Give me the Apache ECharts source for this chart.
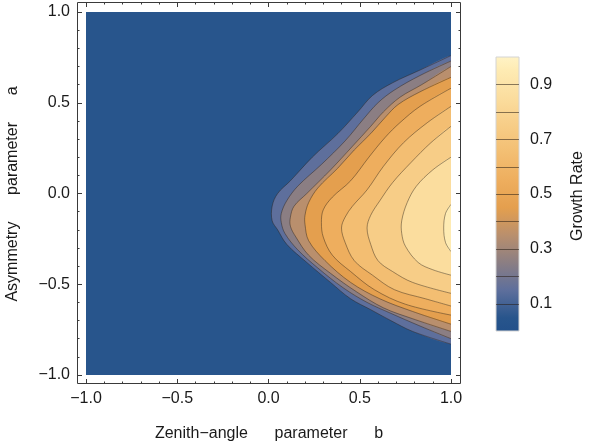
<!DOCTYPE html>
<html><head><meta charset="utf-8">
<script src="https://cdn.jsdelivr.net/npm/echarts@6/dist/echarts.min.js"></script>
<style>html,body{margin:0;padding:0;background:#fff}#c{width:590px;height:444px}</style>
</head><body><div id="c"></div>
<script>
// contour levels of the growth rate
const levels = [0.1, 0.2, 0.3, 0.4, 0.5, 0.6, 0.7, 0.8, 0.9];
// band colours: [0,0.1), [0.1,0.2) ... [0.9,1.0]
const bandColors = ['#28558C','#5E6F9C','#8B7E83','#B98F6D','#E49F4E','#EEAE5E','#F3BE72','#F7CD87','#FBDD9E','#FEEBB3'];
// contour lines, points [b, a]
const contour01 = [[1.0,0.76],[0.83,0.68],[0.68,0.61],[0.57,0.54],[0.49,0.45],[0.38,0.33],[0.24,0.20],[0.12,0.07],[0.05,0.00],[0.02,-0.07],[0.02,-0.15],[0.05,-0.20],[0.10,-0.28],[0.21,-0.38],[0.34,-0.49],[0.45,-0.58],[0.56,-0.64],[0.67,-0.70],[0.79,-0.76],[1.0,-0.83]];
const contour02 = [[1.0,0.73],[0.83,0.65],[0.69,0.57],[0.60,0.50],[0.52,0.41],[0.42,0.29],[0.29,0.16],[0.16,0.04],[0.10,-0.04],[0.07,-0.11],[0.07,-0.16],[0.09,-0.22],[0.16,-0.31],[0.27,-0.41],[0.41,-0.52],[0.54,-0.60],[0.67,-0.66],[0.83,-0.73],[1.0,-0.80]];
const contour03 = [[1.0,0.70],[0.84,0.60],[0.72,0.53],[0.63,0.45],[0.56,0.37],[0.46,0.26],[0.34,0.13],[0.21,0.00],[0.14,-0.07],[0.12,-0.13],[0.12,-0.18],[0.15,-0.24],[0.22,-0.34],[0.34,-0.44],[0.48,-0.54],[0.63,-0.63],[0.79,-0.69],[1.0,-0.76]];
const contour04 = [[1.0,0.64],[0.83,0.56],[0.71,0.49],[0.64,0.42],[0.56,0.33],[0.47,0.24],[0.38,0.14],[0.27,0.03],[0.22,-0.05],[0.20,-0.12],[0.20,-0.17],[0.22,-0.26],[0.31,-0.37],[0.45,-0.49],[0.61,-0.58],[0.79,-0.65],[1.0,-0.72]];
const contour05 = [[1.0,0.58],[0.83,0.48],[0.72,0.39],[0.64,0.31],[0.55,0.20],[0.45,0.07],[0.35,-0.02],[0.30,-0.09],[0.29,-0.16],[0.30,-0.24],[0.35,-0.34],[0.45,-0.43],[0.58,-0.53],[0.75,-0.61],[1.0,-0.67]];
const contour06 = [[1.0,0.48],[0.87,0.39],[0.74,0.28],[0.63,0.15],[0.54,0.02],[0.46,-0.07],[0.42,-0.13],[0.40,-0.19],[0.42,-0.27],[0.47,-0.37],[0.57,-0.45],[0.69,-0.53],[0.86,-0.58],[1.0,-0.62]];
const contour07 = [[1.0,0.37],[0.89,0.28],[0.78,0.17],[0.68,0.06],[0.61,-0.04],[0.56,-0.12],[0.54,-0.19],[0.56,-0.28],[0.60,-0.37],[0.68,-0.43],[0.79,-0.49],[1.0,-0.55]];
const contour08 = [[1.0,0.20],[0.90,0.13],[0.81,0.04],[0.76,-0.05],[0.73,-0.15],[0.73,-0.22],[0.75,-0.29],[0.82,-0.38],[0.90,-0.42],[1.0,-0.45]];
const contour09 = [[1.0,-0.06],[0.97,-0.11],[0.96,-0.19],[0.97,-0.27],[1.0,-0.32]];
const contours = [contour01, contour02, contour03, contour04, contour05, contour06, contour07, contour08, contour09];
// axes
const axisTicks = [-1.0, -0.5, 0.0, 0.5, 1.0];
const legendEdges = [0, 0.1, 0.2, 0.3, 0.4, 0.5, 0.6, 0.7, 0.8, 0.9, 1.0];
const legendLabels = [0.1, 0.3, 0.5, 0.7, 0.9];
const xTitle = 'Zenith\u2212angle      parameter      b';
const yTitle = 'Asymmetry      parameter      a';
const cTitle = 'Growth Rate';

const FONT = '"Liberation Sans", Arial, sans-serif';
const TXT = '#1a1a1a';
const FRAME = '#3a3a3a';
const FS = 16;
const fmt = v => v.toFixed(1).replace('-', '\u2212');
const SMOOTH = 0.35;

const chart = echarts.init(document.getElementById('c'), null, {renderer: 'canvas'});

function frameAxis(base) {
  return Object.assign({
    type: 'value', gridIndex: 0, min: axisTicks[0], max: axisTicks[axisTicks.length - 1],
    interval: 0.5, splitLine: {show: false},
    axisLine: {show: false, onZero: false},
    axisTick: {show: true, inside: true, length: 5, lineStyle: {color: FRAME, width: 1}},
    minorTick: {show: true, splitNumber: 5, length: 2.5, lineStyle: {color: FRAME, width: 1}},
    minorSplitLine: {show: false},
    axisLabel: {show: false}
  }, base);
}

const option = {
  animation: false,
  backgroundColor: '#fff',
  grid: [
    {left: 86, top: 12, width: 365, height: 363, show: true, backgroundColor: bandColors[0], borderWidth: 0},
    {left: 496, top: 57, width: 23, height: 274, show: false}
  ],
  xAxis: [
    frameAxis({position: 'bottom', offset: 9, axisLabel: {show: true, formatter: fmt, fontSize: FS, fontFamily: FONT, color: TXT, margin: 7}}),
    frameAxis({position: 'top', offset: 10}),
    {type: 'value', gridIndex: 1, min: 0, max: 1, show: false}
  ],
  yAxis: [
    frameAxis({position: 'left', offset: 9, axisLabel: {show: true, formatter: fmt, fontSize: FS, fontFamily: FONT, color: TXT, margin: 7}}),
    frameAxis({position: 'right', offset: 10}),
    {type: 'value', gridIndex: 1, min: 0, max: 1, position: 'right',
     splitLine: {show: false}, axisLine: {show: false},
     axisTick: {show: true, customValues: legendLabels, length: 6, lineStyle: {color: '#c8c8c8'}},
     axisLabel: {show: true, customValues: legendLabels, formatter: v => v.toFixed(1), margin: 11, fontSize: FS, fontFamily: FONT, color: TXT}}
  ],
  graphic: [
    {type: 'rect', z: 100, silent: true, shape: {x: 77.5, y: 2.5, width: 383, height: 381}, style: {fill: 'none', stroke: FRAME, lineWidth: 1}},
    {type: 'text', z: 100, silent: true, x: 269, y: 434, style: {text: xTitle, textAlign: 'center', textVerticalAlign: 'middle', fontSize: FS, fontFamily: FONT, fill: TXT}},
    {type: 'text', z: 100, silent: true, x: 13, y: 194, rotation: Math.PI / 2, style: {text: yTitle, textAlign: 'center', textVerticalAlign: 'middle', fontSize: FS, fontFamily: FONT, fill: TXT}},
    {type: 'text', z: 100, silent: true, x: 578, y: 196, rotation: Math.PI / 2, style: {text: cTitle, textAlign: 'center', textVerticalAlign: 'middle', fontSize: FS, fontFamily: FONT, fill: TXT}}
  ],
  series: [
    {
      type: 'custom', coordinateSystem: 'cartesian2d', xAxisIndex: 0, yAxisIndex: 0, clip: true, silent: true,
      data: contours.map((c, i) => [levels[i]]),
      encode: {x: -1, y: -1},
      renderItem: function (params, api) {
        const i = params.dataIndex;
        const c = contours[i];
        const pts = c.map(p => api.coord(p));
        const first = c[0], last = c[c.length - 1];
        // close the region outside the plot edge (clipped away)
        const poly = pts.concat([api.coord([last[0] + 0.1, last[1]]), api.coord([first[0] + 0.1, first[1]])]);
        return {type: 'group', children: [
          {type: 'polygon', shape: {points: poly, smooth: SMOOTH}, style: {fill: bandColors[i + 1], stroke: null, lineWidth: 0}},
          {type: 'polyline', shape: {points: pts, smooth: SMOOTH}, style: {fill: null, stroke: 'rgba(40,30,20,0.55)', lineWidth: 0.8}}
        ]};
      }
    },
    {
      type: 'custom', coordinateSystem: 'cartesian2d', xAxisIndex: 2, yAxisIndex: 2, silent: true,
      data: [[0]],
      encode: {x: -1, y: -1},
      renderItem: function (params, api) {
        const p0 = api.coord([0, legendEdges[0]]);
        const p1 = api.coord([1, legendEdges[legendEdges.length - 1]]);
        const stops = [{offset: 0, color: '#FFF3C6'}];
        for (let k = bandColors.length - 1; k >= 0; k--) {
          stops.push({offset: 1 - (legendEdges[k] + legendEdges[k + 1]) / 2, color: bandColors[k]});
        }
        stops.push({offset: 1, color: '#22508A'});
        const children = [{type: 'rect', shape: {x: p0[0], y: p1[1], width: p1[0] - p0[0], height: p0[1] - p1[1]},
          style: {fill: {type: 'linear', x: 0, y: 0, x2: 0, y2: 1, colorStops: stops}, stroke: '#d4d4d4', lineWidth: 1}}];
        levels.forEach(l => {
          const a = api.coord([0, l]), b = api.coord([1, l]);
          children.push({type: 'line', shape: {x1: a[0], y1: Math.round(a[1]) + 0.5, x2: b[0], y2: Math.round(b[1]) + 0.5},
            style: {stroke: 'rgba(40,30,20,0.55)', lineWidth: 1}});
        });
        return {type: 'group', children: children};
      }
    }
  ]
};
chart.setOption(option);
</script>
</body></html>
